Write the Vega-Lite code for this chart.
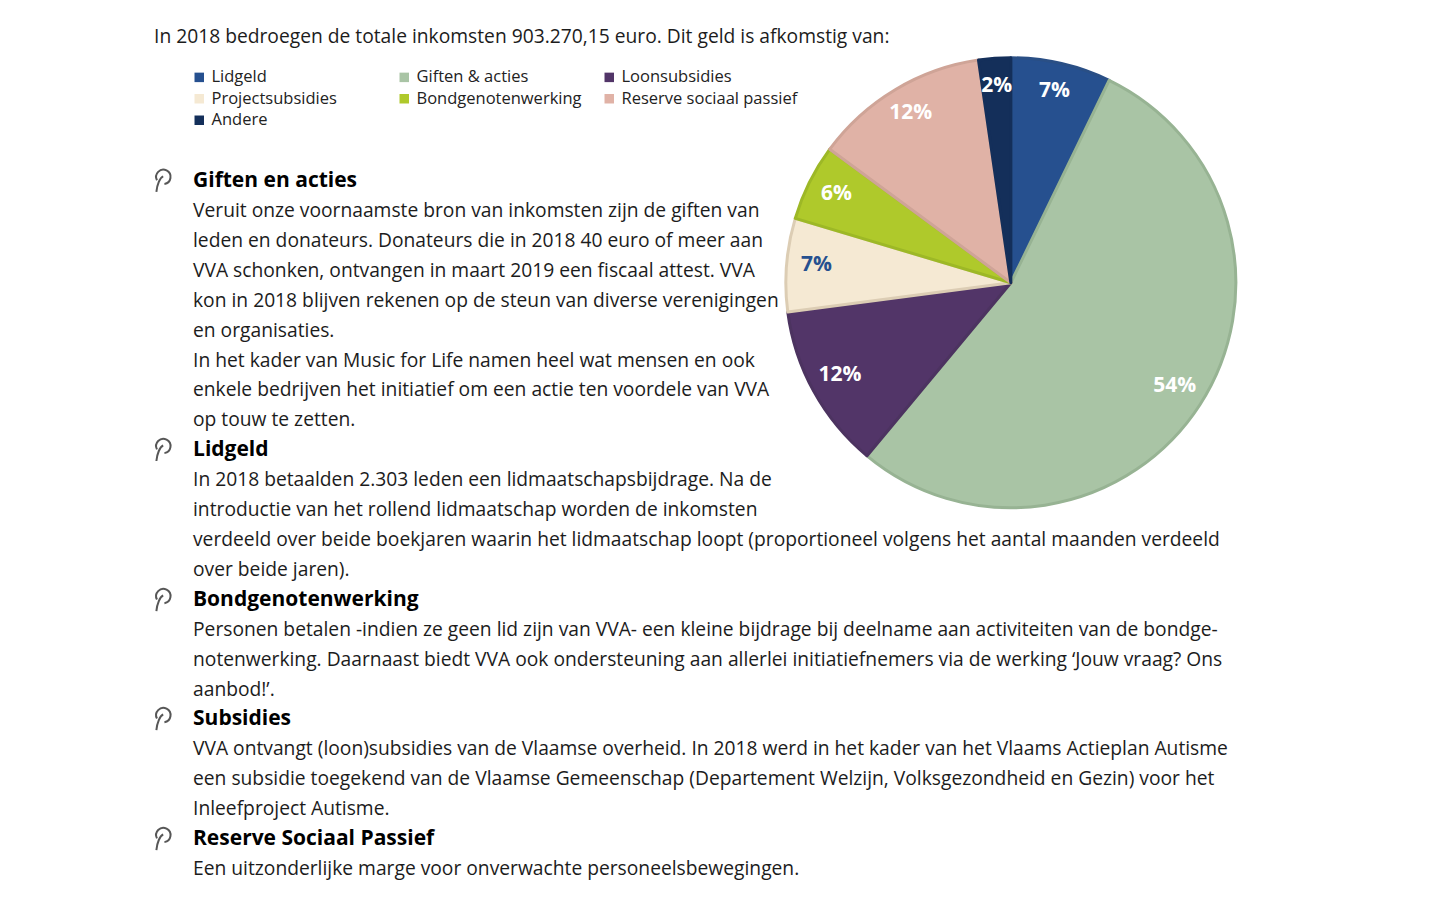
{
"$schema":"https://vega.github.io/schema/vega-lite/v6.json",
"width":1440,"height":900,"padding":0,
"autosize":{"type":"fit","contains":"padding"},
"background":"white",
"config":{"view":{"stroke":null},"axis":{"disable":true},"font":"Open Sans"},
"datasets":{
"aandeel":[
{"categorie":"Lidgeld","percentage":7.2,"label":"7%","volgorde":1},
{"categorie":"Giften & acties","percentage":53.9,"label":"54%","volgorde":2},
{"categorie":"Loonsubsidies","percentage":11.9,"label":"12%","volgorde":3},
{"categorie":"Projectsubsidies","percentage":6.7,"label":"7%","volgorde":4},
{"categorie":"Bondgenotenwerking","percentage":5.5,"label":"6%","volgorde":5},
{"categorie":"Reserve sociaal passief","percentage":12.6,"label":"12%","volgorde":6},
{"categorie":"Andere","percentage":2.3,"label":"2%","volgorde":7}],
"koppen":[
{"tekst":"Giften en acties","regel":4.81},
{"tekst":"Lidgeld","regel":13.81},
{"tekst":"Bondgenotenwerking","regel":18.83},
{"tekst":"Subsidies","regel":22.81},
{"tekst":"Reserve Sociaal Passief","regel":26.82}],
"tekst":[
{"tekst":"In 2018 bedroegen de totale inkomsten 903.270,15 euro. Dit geld is afkomstig van:","regel":0,"kolom":0},
{"tekst":"Veruit onze voornaamste bron van inkomsten zijn de giften van","regel":5.82,"kolom":1},
{"tekst":"leden en donateurs. Donateurs die in 2018 40 euro of meer aan","regel":6.82,"kolom":1},
{"tekst":"VVA schonken, ontvangen in maart 2019 een fiscaal attest. VVA","regel":7.82,"kolom":1},
{"tekst":"kon in 2018 blijven rekenen op de steun van diverse verenigingen","regel":8.82,"kolom":1},
{"tekst":"en organisaties.","regel":9.82,"kolom":1},
{"tekst":"In het kader van Music for Life namen heel wat mensen en ook","regel":10.82,"kolom":1},
{"tekst":"enkele bedrijven het initiatief om een actie ten voordele van VVA","regel":11.82,"kolom":1},
{"tekst":"op touw te zetten.","regel":12.82,"kolom":1},
{"tekst":"In 2018 betaalden 2.303 leden een lidmaatschapsbijdrage. Na de","regel":14.82,"kolom":1},
{"tekst":"introductie van het rollend lidmaatschap worden de inkomsten","regel":15.82,"kolom":1},
{"tekst":"verdeeld over beide boekjaren waarin het lidmaatschap loopt (proportioneel volgens het aantal maanden verdeeld","regel":16.82,"kolom":1},
{"tekst":"over beide jaren).","regel":17.82,"kolom":1},
{"tekst":"Personen betalen -indien ze geen lid zijn van VVA- een kleine bijdrage bij deelname aan activiteiten van de bondge-","regel":19.83,"kolom":1},
{"tekst":"notenwerking. Daarnaast biedt VVA ook ondersteuning aan allerlei initiatiefnemers via de werking ‘Jouw vraag? Ons","regel":20.83,"kolom":1},
{"tekst":"aanbod!’.","regel":21.83,"kolom":1},
{"tekst":"VVA ontvangt (loon)subsidies van de Vlaamse overheid. In 2018 werd in het kader van het Vlaams Actieplan Autisme","regel":23.81,"kolom":1},
{"tekst":"een subsidie toegekend van de Vlaamse Gemeenschap (Departement Welzijn, Volksgezondheid en Gezin) voor het","regel":24.81,"kolom":1},
{"tekst":"Inleefproject Autisme.","regel":25.81,"kolom":1},
{"tekst":"Een uitzonderlijke marge voor onverwachte personeelsbewegingen.","regel":27.83,"kolom":1}]
},
"layer":[
{"data":{"name":"tekst"},
"mark":{"type":"text","align":"left","baseline":"middle","fontSize":19.24,"color":"#1c1c1c"},
"encoding":{
"x":{"field":"kolom","type":"quantitative","scale":{"domain":[-3.949,32.974],"range":[0,1440],"nice":false,"zero":false}},
"y":{"field":"regel","type":"quantitative","scale":{"domain":[-1.24,28.86],"range":[0,900],"nice":false,"zero":false}},
"text":{"field":"tekst"}}},
{"data":{"name":"koppen"},
"mark":{"type":"text","align":"left","baseline":"middle","fontSize":21,"fontWeight":"bold","color":"#000000","font":"Open Sans"},
"encoding":{
"x":{"datum":1,"type":"quantitative"},
"y":{"field":"regel","type":"quantitative"},
"text":{"field":"tekst"}}},
{"data":{"name":"koppen"},
"mark":{"type":"point","filled":false,"stroke":"#111111","strokeWidth":2,"size":576,
"shape":"M-0.5,-0.05 A0.6,0.6 0 1 1 0.12,0.26 M0.02,-0.38 C-0.25,-0.28 -0.5,0.32 -0.55,0.92"},
"encoding":{
"x":{"datum":0.23,"type":"quantitative"},
"y":{"field":"regel","type":"quantitative"}}},
{"data":{"name":"aandeel"},
"mark":{"type":"arc","outerRadius":225,"strokeWidth":3,"strokeJoin":"round"},
"encoding":{
"x":{"datum":21.97,"type":"quantitative"},
"y":{"datum":8.217,"type":"quantitative"},
"theta":{"field":"percentage","type":"quantitative","stack":true},
"order":{"field":"volgorde","type":"quantitative"},
"color":{"field":"categorie","type":"nominal",
"scale":{"domain":["Lidgeld","Giften & acties","Loonsubsidies","Projectsubsidies","Bondgenotenwerking","Reserve sociaal passief","Andere"],
"range":["#26508f","#a9c4a5","#523568","#f5e9d3","#afc92b","#e0b2a6","#142f5a"]},
"legend":{"title":null,"orient":"none","legendX":191,"legendY":69,"columns":3,"direction":"horizontal","gridAlign":"all","columnPadding":8,"rowPadding":4.5,"symbolType":"square","symbolSize":90,"symbolStrokeWidth":0,"labelFontSize":16.5,"labelColor":"#222222","labelFont":"Open Sans","labelOffset":4,"labelLimit":300}},
"stroke":{"field":"categorie","type":"nominal",
"scale":{"domain":["Lidgeld","Giften & acties","Loonsubsidies","Projectsubsidies","Bondgenotenwerking","Reserve sociaal passief","Andere"],
"range":["#2a4f85","#97b393","#4c3360","#dccdb4","#9db826","#cfa497","#142f5a"]},"legend":null}}},
{"data":{"name":"aandeel"},
"mark":{"type":"text","radius":195,"dy":-2,"fontSize":21,"fontWeight":"bold","align":"center","baseline":"middle"},
"encoding":{
"x":{"datum":21.97,"type":"quantitative"},
"y":{"datum":8.217,"type":"quantitative"},
"theta":{"field":"percentage","type":"quantitative","stack":true},
"order":{"field":"volgorde","type":"quantitative"},
"text":{"field":"label"},
"color":{"condition":{"test":"datum.categorie==='Projectsubsidies'","value":"#26508f"},"value":"#ffffff"}}}
]
}
